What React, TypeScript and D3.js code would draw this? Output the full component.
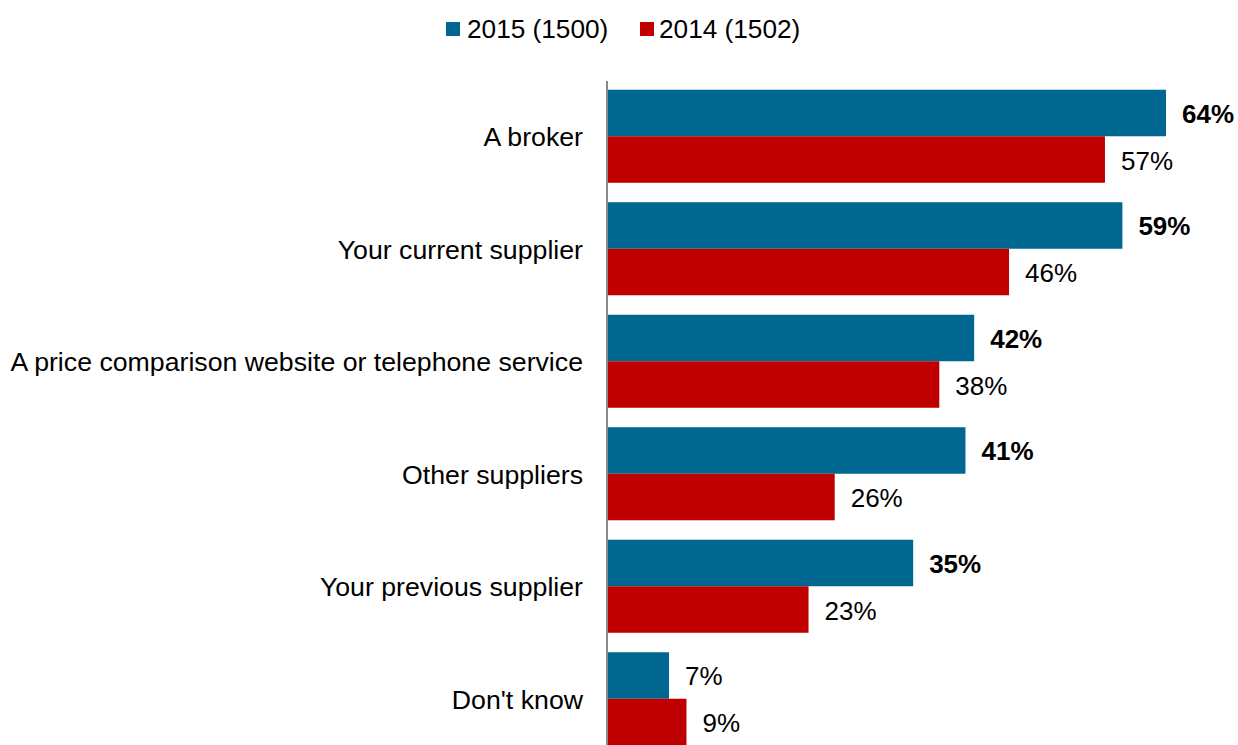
import React from "react";
import * as d3 from "d3";

const categories = [
  "A broker",
  "Your current supplier",
  "A price comparison website or telephone service",
  "Other suppliers",
  "Your previous supplier",
  "Don't know",
];
const series2015 = [64, 59, 42, 41, 35, 7];
const series2014 = [57, 46, 38, 26, 23, 9];
const seriesNames = ["2015 (1500)", "2014 (1502)"];
const seriesColors = ["#006890", "#C00000"];

const W = 1238;
const H = 745;
const FONT = "Liberation Sans, Arial, sans-serif";

export default function App() {
  const x0 = 608;
  const x = d3.scaleLinear().domain([0, 64]).range([x0, 1166]);
  const y = d3
    .scaleBand<string>()
    .domain(categories)
    .range([80, 755])
    .paddingInner(0.173)
    .paddingOuter(0.0865);
  const sub = d3.scaleBand<number>().domain([0, 1]).range([0, y.bandwidth()]);
  const data = [series2015, series2014];

  return (
    <svg
      width={W}
      height={H}
      style={{ position: "absolute", left: 0, top: 0, background: "#fff" }}
      fontFamily={FONT}
    >
      {/* legend */}
      <g>
        <rect x={446} y={22} width={14} height={14} fill={seriesColors[0]} />
        <text x={467} y={38} fontSize={26.2} fill="#000">
          {seriesNames[0]}
        </text>
        <rect x={640} y={22} width={14} height={14} fill={seriesColors[1]} />
        <text x={659} y={38} fontSize={26.2} fill="#000">
          {seriesNames[1]}
        </text>
      </g>
      {categories.map((c, i) => {
        const by = y(c)!;
        return (
          <g key={c}>
            <text
              x={583}
              y={by + y.bandwidth() / 2 + 1}
              textAnchor="end"
              dominantBaseline="central"
              fontSize={26.7}
              fill="#000"
            >
              {c}
            </text>
            {data.map((s, si) => {
              const v = s[i];
              const yy = by + sub(si)!;
              return (
                <g key={si}>
                  <rect
                    x={x(0)}
                    y={yy}
                    width={x(v) - x(0)}
                    height={sub.bandwidth()}
                    fill={seriesColors[si]}
                  />
                  <text
                    x={x(v) + 16}
                    y={yy + sub.bandwidth() / 2 + 1}
                    dominantBaseline="central"
                    fontSize={26}
                    fontWeight={si === 0 && v > 10 ? "bold" : "normal"}
                    fill="#000"
                  >
                    {v}%
                  </text>
                </g>
              );
            })}
          </g>
        );
      })}
      <line x1={607} x2={607} y1={81} y2={H} stroke="#898989" strokeWidth={2} />
    </svg>
  );
}
